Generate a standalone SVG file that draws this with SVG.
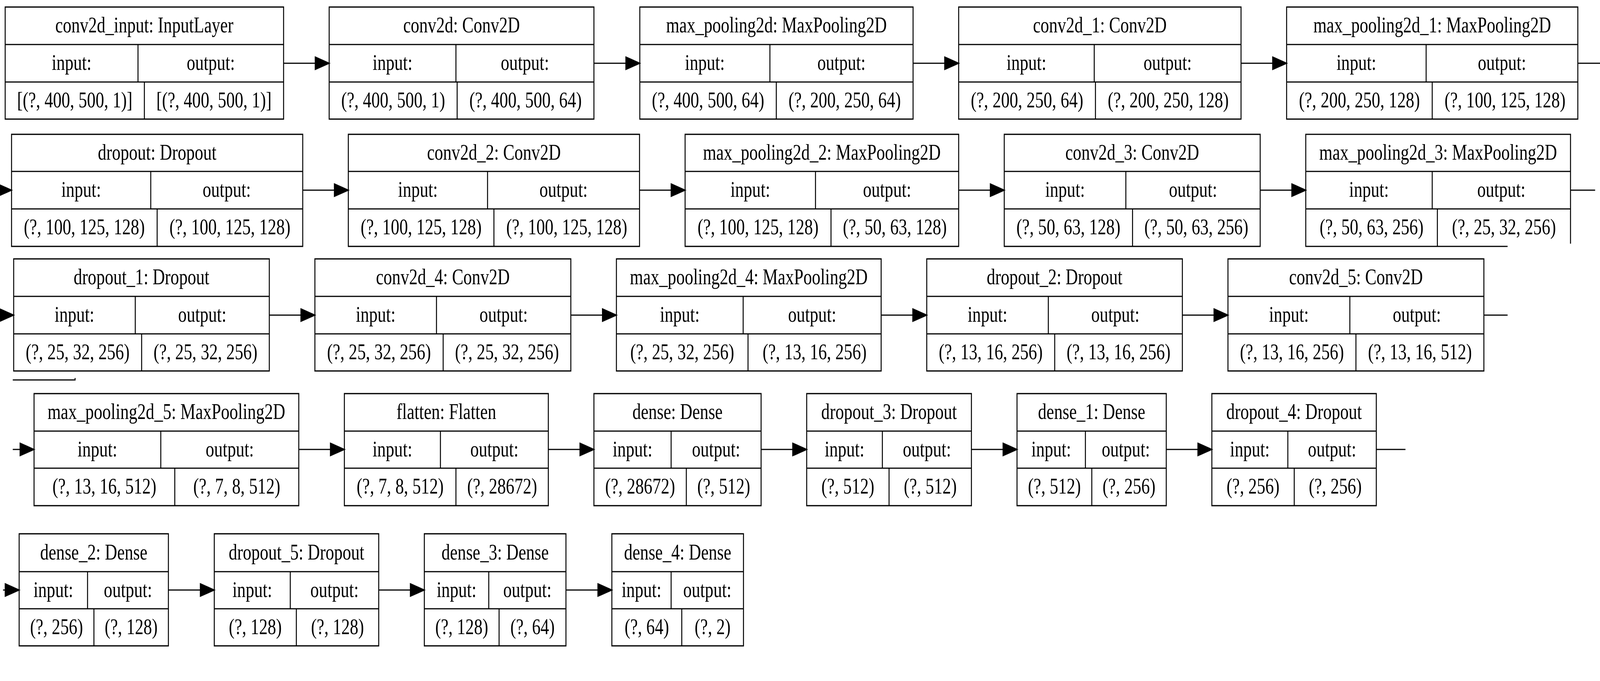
<svg xmlns="http://www.w3.org/2000/svg" width="5264" height="1744" viewBox="0 0 5264 1744" preserveAspectRatio="none">
<style>
:root { width: 100vw; height: 100vh; display: block; }
.node rect, .node path { fill: none; stroke: #000; stroke-width: 3.2; }
.node text { font-family: "Liberation Serif", "Times New Roman", serif; font-size: 56px; text-anchor: middle; fill: #000; }
.edge { fill: none; stroke: #000; stroke-width: 3.2; }
.head { fill: #000; stroke: #000; stroke-width: 3; stroke-linejoin: miter; }
</style>
<rect x="0" y="0" width="5264" height="1744" fill="#fff"/>

<g id="nodes">
<!-- Row 1 -->
<g id="conv2d_input" class="node">
<rect x="17" y="18" width="916" height="287"/>
<path d="M17,114H933M17,210H933M454,114V210M475,210V305"/>
<text x="475" y="83">conv2d_input: InputLayer</text>
<text x="235.5" y="179">input:</text>
<text x="693.5" y="179">output:</text>
<text x="246" y="275">[(?, 400, 500, 1)]</text>
<text x="704" y="275">[(?, 400, 500, 1)]</text>
</g>
<g id="conv2d" class="node">
<rect x="1083" y="18" width="871" height="287"/>
<path d="M1083,114H1954M1083,210H1954M1500,114V210M1504,210V305"/>
<text x="1518.5" y="83">conv2d: Conv2D</text>
<text x="1291.5" y="179">input:</text>
<text x="1727" y="179">output:</text>
<text x="1293.5" y="275">(?, 400, 500, 1)</text>
<text x="1729" y="275">(?, 400, 500, 64)</text>
</g>
<g id="max_pooling2d" class="node">
<rect x="2105" y="18" width="899" height="287"/>
<path d="M2105,114H3004M2105,210H3004M2533,114V210M2554,210V305"/>
<text x="2554.5" y="83">max_pooling2d: MaxPooling2D</text>
<text x="2319" y="179">input:</text>
<text x="2768.5" y="179">output:</text>
<text x="2329.5" y="275">(?, 400, 500, 64)</text>
<text x="2779" y="275">(?, 200, 250, 64)</text>
</g>
<g id="conv2d_1" class="node">
<rect x="3154" y="18" width="929" height="287"/>
<path d="M3154,114H4083M3154,210H4083M3600,114V210M3604,210V305"/>
<text x="3618.5" y="83">conv2d_1: Conv2D</text>
<text x="3377" y="179">input:</text>
<text x="3841.5" y="179">output:</text>
<text x="3379" y="275">(?, 200, 250, 64)</text>
<text x="3843.5" y="275">(?, 200, 250, 128)</text>
</g>
<g id="max_pooling2d_1" class="node">
<rect x="4233" y="18" width="958" height="287"/>
<path d="M4233,114H5191M4233,210H5191M4692,114V210M4712,210V305"/>
<text x="4712" y="83">max_pooling2d_1: MaxPooling2D</text>
<text x="4462.5" y="179">input:</text>
<text x="4941.5" y="179">output:</text>
<text x="4472.5" y="275">(?, 200, 250, 128)</text>
<text x="4951.5" y="275">(?, 100, 125, 128)</text>
</g>

<!-- Row 2 -->
<g id="dropout" class="node">
<rect x="38" y="344" width="958" height="287"/>
<path d="M38,439H996M38,535H996M496,439V535M517,535V631"/>
<text x="517" y="409">dropout: Dropout</text>
<text x="267" y="504">input:</text>
<text x="746" y="504">output:</text>
<text x="277.5" y="600">(?, 100, 125, 128)</text>
<text x="756.5" y="600">(?, 100, 125, 128)</text>
</g>
<g id="conv2d_2" class="node">
<rect x="1146" y="344" width="958" height="287"/>
<path d="M1146,439H2104M1146,535H2104M1604,439V535M1625,535V631"/>
<text x="1625" y="409">conv2d_2: Conv2D</text>
<text x="1375" y="504">input:</text>
<text x="1854" y="504">output:</text>
<text x="1385.5" y="600">(?, 100, 125, 128)</text>
<text x="1864.5" y="600">(?, 100, 125, 128)</text>
</g>
<g id="max_pooling2d_2" class="node">
<rect x="2254" y="344" width="900" height="287"/>
<path d="M2254,439H3154M2254,535H3154M2683,439V535M2734,535V631"/>
<text x="2704" y="409">max_pooling2d_2: MaxPooling2D</text>
<text x="2468.5" y="504">input:</text>
<text x="2918.5" y="504">output:</text>
<text x="2494" y="600">(?, 100, 125, 128)</text>
<text x="2944" y="600">(?, 50, 63, 128)</text>
</g>
<g id="conv2d_3" class="node">
<rect x="3304" y="344" width="842" height="287"/>
<path d="M3304,439H4146M3304,535H4146M3704,439V535M3726,535V631"/>
<text x="3725" y="409">conv2d_3: Conv2D</text>
<text x="3504" y="504">input:</text>
<text x="3925" y="504">output:</text>
<text x="3515" y="600">(?, 50, 63, 128)</text>
<text x="3936" y="600">(?, 50, 63, 256)</text>
</g>
<g id="max_pooling2d_3" class="node">
<path d="M4960,631H4296V344H5167V624"/>
<path d="M4296,439H5167M4296,535H5167M4712,439V535M4729,535V631"/>
<text x="4731.5" y="409">max_pooling2d_3: MaxPooling2D</text>
<text x="4504" y="504">input:</text>
<text x="4939.5" y="504">output:</text>
<text x="4512.5" y="600">(?, 50, 63, 256)</text>
<text x="4948" y="600">(?, 25, 32, 256)</text>
</g>

<!-- Row 3 -->
<g id="dropout_1" class="node">
<rect x="45" y="663" width="841" height="287"/>
<path d="M45,759H886M45,855H886M445,759V855M466,855V950"/>
<text x="465.5" y="728">dropout_1: Dropout</text>
<text x="245" y="824">input:</text>
<text x="665.5" y="824">output:</text>
<text x="255.5" y="920">(?, 25, 32, 256)</text>
<text x="676" y="920">(?, 25, 32, 256)</text>
</g>
<g id="conv2d_4" class="node">
<rect x="1036" y="663" width="842" height="287"/>
<path d="M1036,759H1878M1036,855H1878M1436,759V855M1458,855V950"/>
<text x="1457" y="728">conv2d_4: Conv2D</text>
<text x="1236" y="824">input:</text>
<text x="1657" y="824">output:</text>
<text x="1247" y="920">(?, 25, 32, 256)</text>
<text x="1668" y="920">(?, 25, 32, 256)</text>
</g>
<g id="max_pooling2d_4" class="node">
<rect x="2028" y="663" width="871" height="287"/>
<path d="M2028,759H2899M2028,855H2899M2445,759V855M2461,855V950"/>
<text x="2463.5" y="728">max_pooling2d_4: MaxPooling2D</text>
<text x="2236.5" y="824">input:</text>
<text x="2672" y="824">output:</text>
<text x="2244.5" y="920">(?, 25, 32, 256)</text>
<text x="2680" y="920">(?, 13, 16, 256)</text>
</g>
<g id="dropout_2" class="node">
<rect x="3049" y="663" width="841" height="287"/>
<path d="M3049,759H3890M3049,855H3890M3449,759V855M3470,855V950"/>
<text x="3469.5" y="728">dropout_2: Dropout</text>
<text x="3249" y="824">input:</text>
<text x="3669.5" y="824">output:</text>
<text x="3259.5" y="920">(?, 13, 16, 256)</text>
<text x="3680" y="920">(?, 13, 16, 256)</text>
</g>
<g id="conv2d_5" class="node">
<rect x="4040" y="663" width="842" height="287"/>
<path d="M4040,759H4882M4040,855H4882M4441,759V855M4461,855V950"/>
<text x="4461" y="728">conv2d_5: Conv2D</text>
<text x="4240.5" y="824">input:</text>
<text x="4661.5" y="824">output:</text>
<text x="4250.5" y="920">(?, 13, 16, 256)</text>
<text x="4671.5" y="920">(?, 13, 16, 512)</text>
</g>

<!-- Row 4 -->
<g id="max_pooling2d_5" class="node">
<rect x="112" y="1008" width="871" height="287"/>
<path d="M112,1104H983M112,1199H983M529,1104V1199M575,1199V1295"/>
<text x="547.5" y="1073">max_pooling2d_5: MaxPooling2D</text>
<text x="320.5" y="1169">input:</text>
<text x="756" y="1169">output:</text>
<text x="343.5" y="1264">(?, 13, 16, 512)</text>
<text x="779" y="1264">(?, 7, 8, 512)</text>
</g>
<g id="flatten" class="node">
<rect x="1133" y="1008" width="671" height="287"/>
<path d="M1133,1104H1804M1133,1199H1804M1449,1104V1199M1500,1199V1295"/>
<text x="1468.5" y="1073">flatten: Flatten</text>
<text x="1291" y="1169">input:</text>
<text x="1626.5" y="1169">output:</text>
<text x="1316.5" y="1264">(?, 7, 8, 512)</text>
<text x="1652" y="1264">(?, 28672)</text>
</g>
<g id="dense" class="node">
<rect x="1954" y="1008" width="550" height="287"/>
<path d="M1954,1104H2504M1954,1199H2504M2208,1104V1199M2258,1199V1295"/>
<text x="2229" y="1073">dense: Dense</text>
<text x="2081" y="1169">input:</text>
<text x="2356" y="1169">output:</text>
<text x="2106" y="1264">(?, 28672)</text>
<text x="2381" y="1264">(?, 512)</text>
</g>
<g id="dropout_3" class="node">
<rect x="2654" y="1008" width="542" height="287"/>
<path d="M2654,1104H3196M2654,1199H3196M2903,1104V1199M2925,1199V1295"/>
<text x="2925" y="1073">dropout_3: Dropout</text>
<text x="2778.5" y="1169">input:</text>
<text x="3049.5" y="1169">output:</text>
<text x="2789.5" y="1264">(?, 512)</text>
<text x="3060.5" y="1264">(?, 512)</text>
</g>
<g id="dense_1" class="node">
<rect x="3346" y="1008" width="491" height="287"/>
<path d="M3346,1104H3837M3346,1199H3837M3571,1104V1199M3592,1199V1295"/>
<text x="3591.5" y="1073">dense_1: Dense</text>
<text x="3458.5" y="1169">input:</text>
<text x="3704" y="1169">output:</text>
<text x="3469" y="1264">(?, 512)</text>
<text x="3714.5" y="1264">(?, 256)</text>
</g>
<g id="dropout_4" class="node">
<rect x="3987" y="1008" width="541" height="287"/>
<path d="M3987,1104H4528M3987,1199H4528M4237,1104V1199M4258,1199V1295"/>
<text x="4257.5" y="1073">dropout_4: Dropout</text>
<text x="4112" y="1169">input:</text>
<text x="4382.5" y="1169">output:</text>
<text x="4122.5" y="1264">(?, 256)</text>
<text x="4393" y="1264">(?, 256)</text>
</g>

<!-- Row 5 -->
<g id="dense_2" class="node">
<rect x="63" y="1367" width="491" height="287"/>
<path d="M63,1464H554M63,1559H554M288,1464V1559M309,1559V1654"/>
<text x="308.5" y="1433">dense_2: Dense</text>
<text x="175.5" y="1529">input:</text>
<text x="421" y="1529">output:</text>
<text x="186" y="1624">(?, 256)</text>
<text x="431.5" y="1624">(?, 128)</text>
</g>
<g id="dropout_5" class="node">
<rect x="705" y="1367" width="541" height="287"/>
<path d="M705,1464H1246M705,1559H1246M955,1464V1559M975,1559V1654"/>
<text x="975.5" y="1433">dropout_5: Dropout</text>
<text x="830" y="1529">input:</text>
<text x="1100.5" y="1529">output:</text>
<text x="840" y="1624">(?, 128)</text>
<text x="1110.5" y="1624">(?, 128)</text>
</g>
<g id="dense_3" class="node">
<rect x="1396" y="1367" width="466" height="287"/>
<path d="M1396,1464H1862M1396,1559H1862M1608,1464V1559M1642,1559V1654"/>
<text x="1629" y="1433">dense_3: Dense</text>
<text x="1502" y="1529">input:</text>
<text x="1735" y="1529">output:</text>
<text x="1519" y="1624">(?, 128)</text>
<text x="1752" y="1624">(?, 64)</text>
</g>
<g id="dense_4" class="node">
<rect x="2013" y="1367" width="433" height="287"/>
<path d="M2013,1464H2446M2013,1559H2446M2208,1464V1559M2243,1559V1654"/>
<text x="2229.5" y="1433">dense_4: Dense</text>
<text x="2110.5" y="1529">input:</text>
<text x="2327" y="1529">output:</text>
<text x="2128" y="1624">(?, 64)</text>
<text x="2344.5" y="1624">(?, 2)</text>
</g>
</g>

<g id="connectors">
<!-- Row 1 -->
<path class="edge" d="M933,162H1037M1954,162H2059M3004,162H3108M4083,162H4187M5191,162H5264"/>
<polygon class="head" points="1037,146 1083,162 1037,178"/>
<polygon class="head" points="2059,146 2105,162 2059,178"/>
<polygon class="head" points="3108,146 3154,162 3108,178"/>
<polygon class="head" points="4187,146 4233,162 4187,178"/>
<!-- Row 2 -->
<path class="edge" d="M996,487H1100M2104,487H2208M3154,487H3258M4146,487H4250M5167,487H5248"/>
<polygon class="head" points="-8,471 38,487 -8,503"/>
<polygon class="head" points="1100,471 1146,487 1100,503"/>
<polygon class="head" points="2208,471 2254,487 2208,503"/>
<polygon class="head" points="3258,471 3304,487 3258,503"/>
<polygon class="head" points="4250,471 4296,487 4250,503"/>
<!-- Row 3 -->
<path class="edge" d="M886,807H990M1878,807H1982M2899,807H3003M3890,807H3994M4882,807H4960"/>
<polygon class="head" points="-1,791 45,807 -1,823"/>
<polygon class="head" points="990,791 1036,807 990,823"/>
<polygon class="head" points="1982,791 2028,807 1982,823"/>
<polygon class="head" points="3003,791 3049,807 3003,823"/>
<polygon class="head" points="3994,791 4040,807 3994,823"/>
<path class="edge" d="M42,973H247V968"/>
<!-- Row 4 -->
<path class="edge" d="M42,1151H66M983,1151H1087M1804,1151H1908M2504,1151H2608M3196,1151H3300M3837,1151H3941M4528,1151H4624"/>
<polygon class="head" points="66,1135 112,1151 66,1167"/>
<polygon class="head" points="1087,1135 1133,1151 1087,1167"/>
<polygon class="head" points="1908,1135 1954,1151 1908,1167"/>
<polygon class="head" points="2608,1135 2654,1151 2608,1167"/>
<polygon class="head" points="3300,1135 3346,1151 3300,1167"/>
<polygon class="head" points="3941,1135 3987,1151 3941,1167"/>
<!-- Row 5 -->
<path class="edge" d="M10,1511H17M554,1511H659M1246,1511H1350M1862,1511H1967"/>
<polygon class="head" points="17,1495 63,1511 17,1527"/>
<polygon class="head" points="659,1495 705,1511 659,1527"/>
<polygon class="head" points="1350,1495 1396,1511 1350,1527"/>
<polygon class="head" points="1967,1495 2013,1511 1967,1527"/>
</g>
</svg>
